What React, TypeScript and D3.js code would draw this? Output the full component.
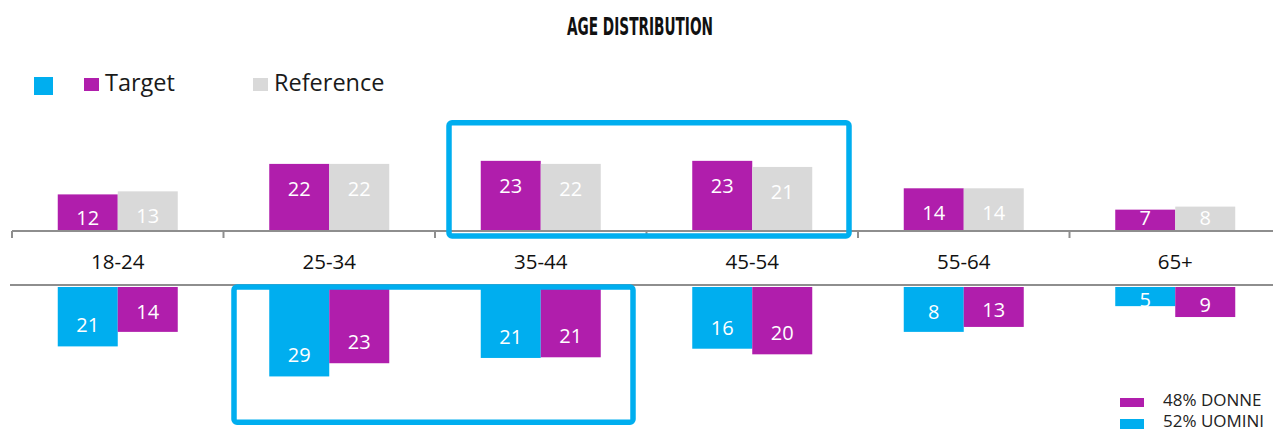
import React from "react";
import * as d3 from "d3";

const categories = ["18-24", "25-34", "35-44", "45-54", "55-64", "65+"];
// Top panel: Target vs Reference
const targetValues = [12, 22, 23, 23, 14, 7];
const referenceValues = [13, 22, 22, 21, 14, 8];
// Bottom panel: bar lengths as drawn, and printed labels
const menBar = [18.0, 27.1, 21.5, 18.7, 13.6, 5.8];
const womenBar = [13.6, 23.1, 21.3, 20.4, 12.1, 9.1];
const menLabels = [21, 29, 21, 16, 8, 5];
const womenLabels = [14, 23, 21, 20, 13, 9];
const legendTop = ["Target", "Reference"];
const legendBottom = ["48% DONNE", "52% UOMINI"];
const title = "AGE DISTRIBUTION";

const W = 1273;
const H = 432;
const PURPLE = "#B01EAC";
const BLUE = "#00AEEF";
const GREY = "#D9D9D9";
const AXIS = "#8E8E8E";
const FONT = "'Open Sans', 'Noto Sans', sans-serif";

export default function App() {
  const x = d3.scaleBand<string>().domain(categories).range([12, 1281]).paddingInner(0).paddingOuter(0);
  const sub = d3
    .scaleBand<string>()
    .domain(["a", "b"])
    .range([0, x.bandwidth()])
    .paddingInner(0)
    .paddingOuter(0.7625);

  const topBase = 231;
  const yTop = d3.scaleLinear().domain([0, 30]).range([topBase, topBase - 91.5]);
  const botBase = 287;
  const yBot = d3.scaleLinear().domain([0, 30]).range([botBase, botBase + 99]);

  const topLabelY = (v: number) => Math.min(yTop(v) + 25, topBase - 13);
  const botLabelY = (v: number) => {
    const b = yBot(v);
    return Math.max(b - 21, (botBase + b) / 2 + 3);
  };

  const ticks = categories.map((c) => x(c) as number).concat([x.range()[1]]);

  const topBox = {
    x0: (x("35-44") as number) + 14,
    x1: (x("45-54") as number) + x.bandwidth() - 9,
    y0: yTop(35.5),
    y1: topBase + 5,
  };
  const botBox = {
    x0: (x("25-34") as number) + 10.5,
    x1: (x("35-44") as number) + x.bandwidth() - 13.5,
    y0: botBase,
    y1: yBot(41),
  };

  return (
    <svg
      width={W}
      height={H}
      style={{ position: "absolute", left: 0, top: 0, background: "#fff" }}
      fontFamily={FONT}
    >
      {/* Title */}
      <text
        x={640}
        y={35}
        textAnchor="middle"
        fontFamily="'Liberation Sans Narrow', 'DejaVu Sans Condensed', sans-serif"
        fontWeight="bold"
        fontSize={24}
        textLength={146}
        lengthAdjust="spacingAndGlyphs"
        fill="#111"
      >
        {title}
      </text>

      {/* Top legend */}
      <rect x={34} y={77} width={19} height={18} fill={BLUE} />
      <rect x={84} y={78} width={15} height={13} fill={PURPLE} />
      <text x={105} y={91} fontSize={23.5} fill="#1a1a1a">
        {legendTop[0]}
      </text>
      <rect x={253} y={78} width={15} height={13} fill={GREY} />
      <text x={274} y={91} fontSize={23.5} fill="#1a1a1a">
        {legendTop[1]}
      </text>

      {/* Top bars */}
      {categories.map((c, i) => {
        const bx = x(c) as number;
        const ta = bx + (sub("a") as number);
        const tb = bx + (sub("b") as number);
        return (
          <g key={"t" + c}>
            <rect x={ta} y={yTop(targetValues[i])} width={sub.bandwidth()} height={topBase - yTop(targetValues[i])} fill={PURPLE} />
            <rect x={tb} y={yTop(referenceValues[i])} width={sub.bandwidth()} height={topBase - yTop(referenceValues[i])} fill={GREY} />
            <text x={ta + sub.bandwidth() / 2} y={topLabelY(targetValues[i])} dy="0.35em" textAnchor="middle" fontSize={20} fill="#fff">
              {targetValues[i]}
            </text>
            <text x={tb + sub.bandwidth() / 2} y={topLabelY(referenceValues[i])} dy="0.35em" textAnchor="middle" fontSize={20} fill="#fff">
              {referenceValues[i]}
            </text>
          </g>
        );
      })}

      {/* Top axis */}
      <line x1={12} x2={1281} y1={topBase} y2={topBase} stroke={AXIS} strokeWidth={2} />
      {ticks.map((t, i) => (
        <line key={"tk" + i} x1={t} x2={t} y1={topBase} y2={topBase + 7} stroke={AXIS} strokeWidth={2} />
      ))}

      {/* Category labels */}
      {categories.map((c) => (
        <text key={"cl" + c} x={(x(c) as number) + x.bandwidth() / 2} y={269} textAnchor="middle" fontSize={20.5} fill="#111">
          {c}
        </text>
      ))}

      {/* Bottom axis */}
      <line x1={10} x2={1281} y1={285} y2={285} stroke={AXIS} strokeWidth={2} />

      {/* Bottom bars */}
      {categories.map((c, i) => {
        const bx = x(c) as number;
        const ma = bx + (sub("a") as number);
        const wb = bx + (sub("b") as number);
        return (
          <g key={"b" + c}>
            <rect x={ma} y={botBase} width={sub.bandwidth()} height={yBot(menBar[i]) - botBase} fill={BLUE} />
            <rect x={wb} y={botBase} width={sub.bandwidth()} height={yBot(womenBar[i]) - botBase} fill={PURPLE} />
            <text x={ma + sub.bandwidth() / 2} y={botLabelY(menBar[i])} dy="0.35em" textAnchor="middle" fontSize={20} fill="#fff">
              {menLabels[i]}
            </text>
            <text x={wb + sub.bandwidth() / 2} y={botLabelY(womenBar[i])} dy="0.35em" textAnchor="middle" fontSize={20} fill="#fff">
              {womenLabels[i]}
            </text>
          </g>
        );
      })}

      {/* Highlight boxes */}
      <rect
        x={topBox.x0}
        y={topBox.y0}
        width={topBox.x1 - topBox.x0}
        height={topBox.y1 - topBox.y0}
        rx={3}
        fill="none"
        stroke={BLUE}
        strokeWidth={5.5}
      />
      <rect
        x={botBox.x0}
        y={botBox.y0}
        width={botBox.x1 - botBox.x0}
        height={botBox.y1 - botBox.y0}
        rx={3}
        fill="none"
        stroke={BLUE}
        strokeWidth={5.5}
      />

      {/* Bottom-right legend */}
      <rect x={1120} y={398} width={24} height={9} fill={PURPLE} />
      <text x={1163} y={406} fontSize={17} fill="#222">
        {legendBottom[0]}
      </text>
      <rect x={1120} y={419} width={24} height={10} fill={BLUE} />
      <text x={1163} y={427} fontSize={17} fill="#222">
        {legendBottom[1]}
      </text>
    </svg>
  );
}
